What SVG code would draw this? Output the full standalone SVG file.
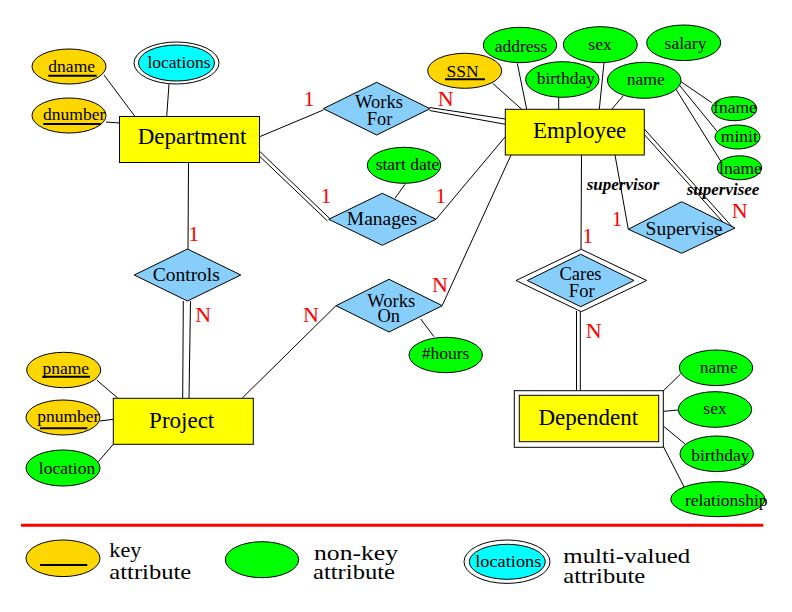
<svg xmlns="http://www.w3.org/2000/svg" width="792" height="612" viewBox="0 0 792 612">
<style>
text{font-family:'Liberation Serif','DejaVu Serif',serif;fill:#000;text-anchor:middle}
.ent{fill:#FFFF00;stroke:#000;stroke-width:1}
.wht{fill:#FFFFFF;stroke:#000;stroke-width:1}
.rel{fill:#87CEFA;stroke:#000;stroke-width:1}
.key{fill:#FFD700;stroke:#000;stroke-width:1}
.att{fill:#00FF00;stroke:#000;stroke-width:1}
.mv{fill:#00FFFF;stroke:#000;stroke-width:1}
.et{font-size:23px}
.rt{font-size:19.5px}
.rt2{font-size:18.5px}
.at{font-size:17.5px}
.ul{stroke:#000;stroke-width:2}
.ln{stroke:#000;stroke-width:1;fill:none}
.card{font-size:22px;fill:#FF0000}
.role{font-size:17px;font-weight:bold;font-style:italic;text-anchor:start}
.lg{font-size:22px;text-anchor:start}
</style>
<rect width="792" height="612" fill="#FFFFFF"/>

<g id="connectors">
<line class="ln" x1="104" y1="75" x2="135" y2="116.5"/>
<line class="ln" x1="169" y1="84" x2="166.7" y2="116.5"/>
<line class="ln" x1="106" y1="122" x2="119.5" y2="123"/>
<line class="ln" x1="259" y1="137" x2="323.3" y2="110"/>
<line class="ln" x1="429.5" y1="107.5" x2="505.3" y2="119"/>
<line class="ln" x1="429.5" y1="110.5" x2="505.3" y2="124.3"/>
<line class="ln" x1="259.3" y1="151" x2="330" y2="218.8"/>
<line class="ln" x1="259.3" y1="156" x2="327.5" y2="221"/>
<line class="ln" x1="436" y1="219.3" x2="505.3" y2="136.7"/>
<line class="ln" x1="395" y1="198.3" x2="405" y2="184.3"/>
<line class="ln" x1="188.5" y1="162.3" x2="188" y2="249"/>
<line class="ln" x1="183.3" y1="301" x2="182.7" y2="398"/>
<line class="ln" x1="190.5" y1="301" x2="189" y2="398"/>
<line class="ln" x1="242.3" y1="398" x2="336" y2="305.7"/>
<line class="ln" x1="442.3" y1="305.3" x2="511" y2="155"/>
<line class="ln" x1="420.7" y1="319" x2="434" y2="336.7"/>
<line class="ln" x1="492.7" y1="83.3" x2="521.7" y2="109.3"/>
<line class="ln" x1="517.3" y1="63.3" x2="526.7" y2="109.3"/>
<line class="ln" x1="558.7" y1="97.3" x2="558.7" y2="109.3"/>
<line class="ln" x1="604" y1="62.7" x2="599.3" y2="109.3"/>
<line class="ln" x1="623.3" y1="95.7" x2="611.7" y2="109.3"/>
<line class="ln" x1="681" y1="81.7" x2="711.7" y2="102.7"/>
<line class="ln" x1="679.3" y1="85" x2="717.3" y2="131.7"/>
<line class="ln" x1="676" y1="89.3" x2="721.7" y2="162.7"/>
<line class="ln" x1="615" y1="155" x2="628.3" y2="229.3"/>
<line class="ln" x1="644.3" y1="129" x2="733.5" y2="228.3"/>
<line class="ln" x1="644.3" y1="134.5" x2="730" y2="230"/>
<line class="ln" x1="581.5" y1="155" x2="581" y2="249.3"/>
<line class="ln" x1="576.5" y1="311" x2="576.5" y2="390.7"/>
<line class="ln" x1="580.3" y1="311" x2="580.3" y2="390.7"/>
<line class="ln" x1="96.7" y1="380" x2="117.7" y2="398"/>
<line class="ln" x1="100" y1="421" x2="113.3" y2="419.3"/>
<line class="ln" x1="98.3" y1="461.7" x2="113.3" y2="444.3"/>
<line class="ln" x1="660" y1="394" x2="680.7" y2="374"/>
<line class="ln" x1="659.3" y1="411.7" x2="678.3" y2="410"/>
<line class="ln" x1="659.3" y1="422.7" x2="685" y2="444"/>
<line class="ln" x1="658.3" y1="436.7" x2="685.7" y2="490"/>
</g>

<g id="cardinalities">
<text class="card" x="309" y="105.7">1</text>
<text class="card" x="445.8" y="106">N</text>
<text class="card" x="326" y="203.3">1</text>
<text class="card" x="440.7" y="203.3">1</text>
<text class="card" x="193.7" y="240.7">1</text>
<text class="card" x="203.3" y="322.3">N</text>
<text class="card" x="311" y="321.7">N</text>
<text class="card" x="440" y="291.7">N</text>
<text class="card" x="617" y="226">1</text>
<text class="card" x="739.7" y="218.3">N</text>
<text class="card" x="587.8" y="242.7">1</text>
<text class="card" x="593.8" y="337.7">N</text>
<text class="role" x="586.7" y="190">supervisor</text>
<text class="role" x="686.7" y="195">supervisee</text>
</g>

<g id="Department">
<rect class="ent" x="119.5" y="116.5" width="140" height="46"/>
<text class="et" x="192" y="144">Department</text>
</g>
<g id="Employee">
<rect class="ent" x="505.3" y="109.3" width="139" height="45.7"/>
<text class="et" x="579.7" y="138.3">Employee</text>
</g>
<g id="Project">
<rect class="ent" x="113.3" y="398.3" width="140" height="46"/>
<text class="et" x="181.7" y="428.3">Project</text>
</g>
<g id="Dependent">
<rect class="wht" x="514.3" y="390.7" width="149" height="56.6"/>
<rect class="ent" x="519.3" y="395.3" width="139.4" height="46.4"/>
<text class="et" x="588.3" y="425">Dependent</text>
</g>

<g id="WorksFor">
<polygon class="rel" points="323.3,108.7 376.7,82.3 430,108.7 376.7,135"/>
<text class="rt2" x="379" y="107.7">Works</text>
<text class="rt2" x="379.5" y="125">For</text>
</g>
<g id="Manages">
<polygon class="rel" points="328.7,219.3 382.3,193.3 436,219.3 382.3,245.3"/>
<text class="rt" x="382" y="225">Manages</text>
</g>
<g id="Controls">
<polygon class="rel" points="134.2,275 187.5,249 240.8,275 187.5,301"/>
<text class="rt" x="186.3" y="280.7">Controls</text>
</g>
<g id="WorksOn">
<polygon class="rel" points="336,305.7 389,279.3 442.3,305.7 389,332"/>
<text class="rt2" x="391.2" y="306.7">Works</text>
<text class="rt2" x="388.7" y="322.3">On</text>
</g>
<g id="Supervise">
<polygon class="rel" points="628.3,229.3 681.7,201.7 735,228 681.7,253.3"/>
<text class="rt" x="684" y="235">Supervise</text>
</g>
<g id="CaresFor">
<polygon class="wht" points="516,280.5 581.3,249.3 646.7,280.5 581.3,311.7"/>
<polygon class="rel" points="527.3,280.5 580.7,254.3 634,280.5 580.7,306.7"/>
<text class="rt2" x="580.5" y="280">Cares</text>
<text class="rt2" x="581.7" y="296.7">For</text>
</g>

<g id="dname">
<ellipse class="key" cx="69" cy="66.5" rx="37" ry="17.5"/>
<text class="at" x="71.7" y="71.7">dname</text>
<line class="ul" x1="48.3" y1="75.7" x2="96.7" y2="75.7"/>
</g>
<g id="dnumber">
<ellipse class="key" cx="69" cy="115.5" rx="37" ry="17.5"/>
<text class="at" x="74.2" y="120">dnumber</text>
<line class="ul" x1="43.3" y1="124" x2="100.7" y2="124"/>
</g>
<g id="locations">
<ellipse class="wht" cx="176.5" cy="63" rx="42.5" ry="21"/>
<ellipse class="mv" cx="176.5" cy="63" rx="38" ry="18"/>
<text class="at" x="179" y="68.3">locations</text>
</g>
<g id="SSN">
<ellipse class="key" cx="464.7" cy="70.8" rx="37" ry="17.5"/>
<text class="at" x="462.5" y="76.7">SSN</text>
<line class="ul" x1="445" y1="79.3" x2="485" y2="79.3"/>
</g>
<g id="address">
<ellipse class="att" cx="520" cy="45" rx="36.7" ry="17.7"/>
<text class="at" x="521" y="51.7">address</text>
</g>
<g id="sex">
<ellipse class="att" cx="600.3" cy="44.7" rx="37" ry="18"/>
<text class="at" x="600" y="50">sex</text>
</g>
<g id="salary">
<ellipse class="att" cx="683.7" cy="42.8" rx="37" ry="17.8"/>
<text class="at" x="685.5" y="49.3">salary</text>
</g>
<g id="birthday">
<ellipse class="att" cx="562.3" cy="79.5" rx="36.7" ry="17.8"/>
<text class="at" x="565.8" y="84.3">birthday</text>
</g>
<g id="name">
<ellipse class="att" cx="644.2" cy="80.3" rx="36.8" ry="18"/>
<text class="at" x="645.8" y="85">name</text>
</g>
<g id="fname">
<ellipse class="att" cx="734.2" cy="108.7" rx="22.5" ry="12"/>
<text class="at" x="735" y="113.3">fname</text>
</g>
<g id="minit">
<ellipse class="att" cx="737.5" cy="137" rx="22.5" ry="12"/>
<text class="at" x="739.3" y="141.7">minit</text>
</g>
<g id="lname">
<ellipse class="att" cx="739.5" cy="167.8" rx="22.2" ry="12"/>
<text class="at" x="740.5" y="174.3">lname</text>
</g>
<g id="startdate">
<ellipse class="att" cx="404" cy="165.3" rx="36.7" ry="18"/>
<text class="at" x="407.5" y="170">start date</text>
</g>
<g id="hours">
<ellipse class="att" cx="445.7" cy="355" rx="36.7" ry="17.7"/>
<text class="at" x="445.5" y="359.3">#hours</text>
</g>
<g id="pname">
<ellipse class="key" cx="63.7" cy="370" rx="37" ry="17.7"/>
<text class="at" x="65.8" y="374">pname</text>
<line class="ul" x1="42.3" y1="376.7" x2="90" y2="376.7"/>
</g>
<g id="pnumber">
<ellipse class="key" cx="63" cy="417.5" rx="37" ry="17.5"/>
<text class="at" x="68.3" y="421.7">pnumber</text>
<line class="ul" x1="40" y1="428.3" x2="87.3" y2="428.3"/>
</g>
<g id="location">
<ellipse class="att" cx="63" cy="468" rx="37" ry="18"/>
<text class="at" x="67" y="474.3">location</text>
</g>
<g id="dep_name">
<ellipse class="att" cx="716" cy="367.8" rx="36.7" ry="17.8"/>
<text class="at" x="718.8" y="372.7">name</text>
</g>
<g id="dep_sex">
<ellipse class="att" cx="715" cy="409.5" rx="36.7" ry="17.8"/>
<text class="at" x="715" y="414">sex</text>
</g>
<g id="dep_birthday">
<ellipse class="att" cx="716.7" cy="453.8" rx="36.7" ry="17.8"/>
<text class="at" x="720.3" y="460.7">birthday</text>
</g>
<g id="relationship">
<ellipse class="att" cx="717.8" cy="499.2" rx="47" ry="17.5"/>
<text class="at" x="726.2" y="505.7">relationship</text>
</g>

<g id="legend">
<line x1="21" y1="525.3" x2="763.3" y2="525.3" stroke="#FF0000" stroke-width="3"/>
<ellipse class="key" cx="63" cy="558.3" rx="37" ry="18.3"/>
<line x1="40" y1="565" x2="87.3" y2="565" stroke="#000" stroke-width="2"/>
<text class="lg" x="109.3" y="557.3" textLength="32" lengthAdjust="spacingAndGlyphs">key</text>
<text class="lg" x="109.3" y="579" textLength="82" lengthAdjust="spacingAndGlyphs">attribute</text>
<ellipse class="att" cx="262" cy="559.7" rx="36.7" ry="18"/>
<text class="lg" x="314" y="560" textLength="84" lengthAdjust="spacingAndGlyphs">non-key</text>
<text class="lg" x="313" y="579.3" textLength="82" lengthAdjust="spacingAndGlyphs">attribute</text>
<ellipse class="wht" cx="507" cy="561.7" rx="43" ry="21.7"/>
<ellipse class="mv" cx="507.3" cy="561.8" rx="38" ry="17.5"/>
<text x="508.3" y="566.7" font-size="17" textLength="66" lengthAdjust="spacingAndGlyphs">locations</text>
<text class="lg" x="563.3" y="563.3" textLength="127" lengthAdjust="spacingAndGlyphs">multi-valued</text>
<text class="lg" x="563.3" y="583.3" textLength="82" lengthAdjust="spacingAndGlyphs">attribute</text>
</g>
</svg>
